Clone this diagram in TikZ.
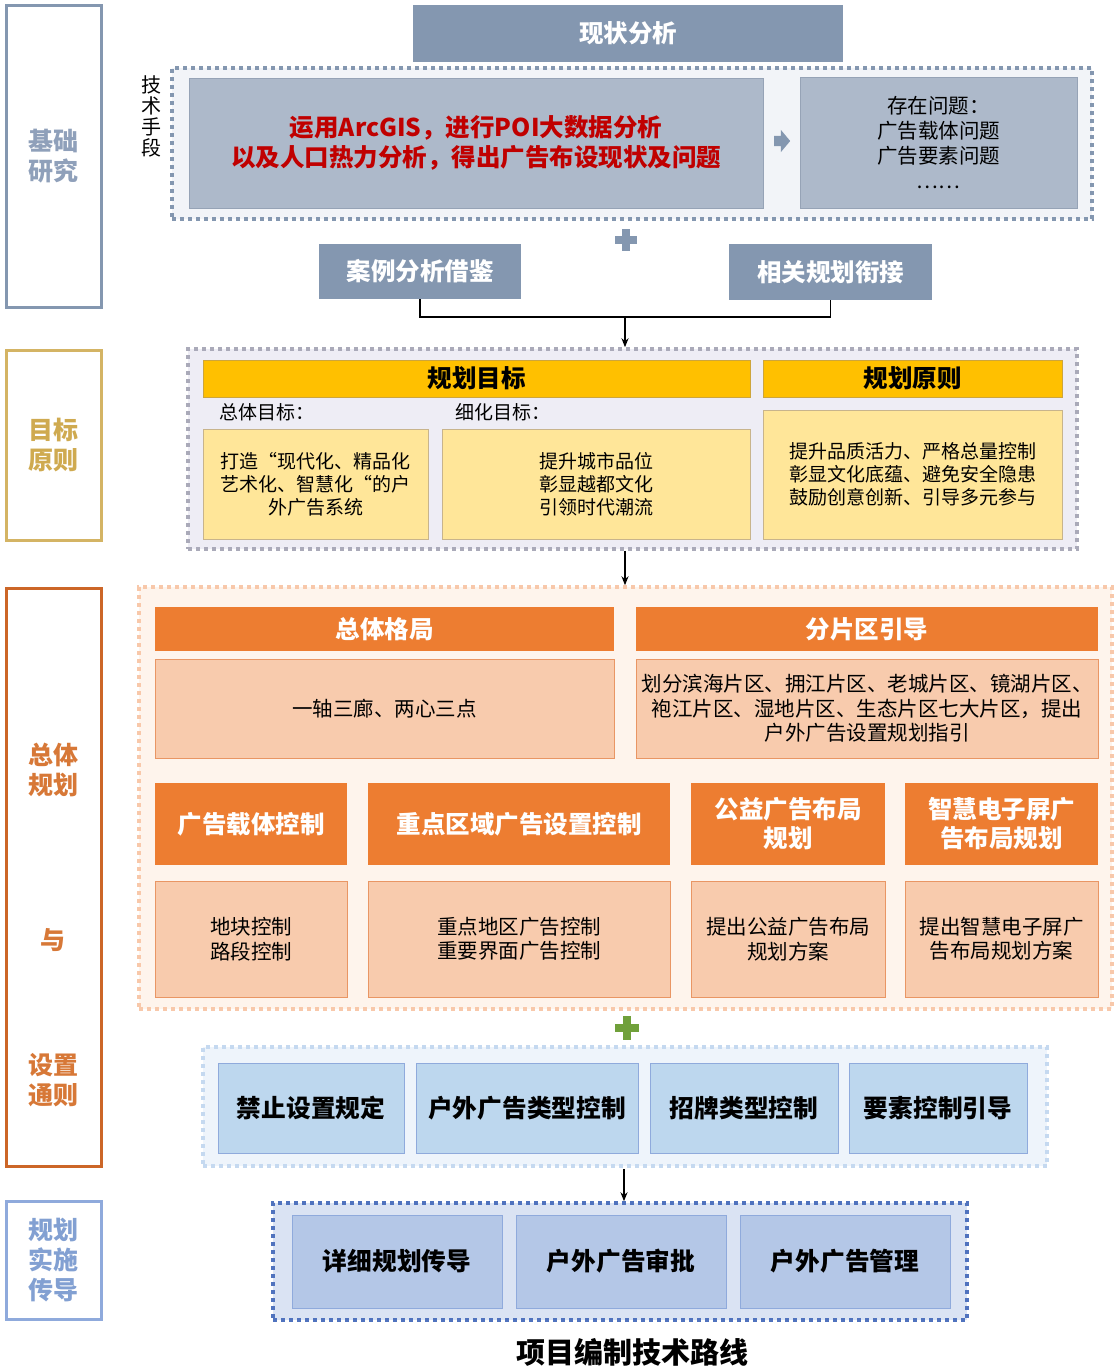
\documentclass[tikz,border=0pt]{standalone}
\usepackage{fontspec}
\setmainfont{Noto Sans CJK SC}
\usepackage{xcolor}
\definecolor{slate}{RGB}{132,151,176}
\definecolor{slatelt}{RGB}{173,185,202}
\definecolor{slateln}{RGB}{150,163,182}
\definecolor{slatebg}{RGB}{242,244,248}
\definecolor{slatetx}{RGB}{143,160,186}
\definecolor{redtx}{RGB}{192,0,0}
\definecolor{gold}{RGB}{255,192,0}
\definecolor{goldln}{RGB}{205,165,60}
\definecolor{goldlt}{RGB}{255,230,153}
\definecolor{goldln2}{RGB}{200,180,140}
\definecolor{lavbg}{RGB}{238,237,245}
\definecolor{lavln}{RGB}{170,170,185}
\definecolor{goldlab}{RGB}{212,180,100}
\definecolor{goldtx}{RGB}{207,170,80}
\definecolor{org}{RGB}{237,125,49}
\definecolor{peach}{RGB}{248,203,173}
\definecolor{orgln}{RGB}{233,150,100}
\definecolor{peachbg}{RGB}{254,244,236}
\definecolor{peachdot}{RGB}{248,200,170}
\definecolor{orglab}{RGB}{204,102,40}
\definecolor{orgtx}{RGB}{215,120,55}
\definecolor{grn}{RGB}{112,160,58}
\definecolor{blbg}{RGB}{238,244,251}
\definecolor{bldot}{RGB}{197,217,240}
\definecolor{blone}{RGB}{189,215,238}
\definecolor{blln}{RGB}{143,170,220}
\definecolor{bltwobg}{RGB}{218,227,243}
\definecolor{bltwodot}{RGB}{80,115,190}
\definecolor{bltwo}{RGB}{180,199,231}
\definecolor{bllab}{RGB}{143,170,220}
\definecolor{bltx}{RGB}{130,160,210}
\usepackage{tikz}
\usetikzlibrary{arrows.meta,shapes.arrows,calc}
\newcommand\fsz[2]{\fontsize{#1pt}{#2pt}\selectfont}

\begin{document}
\begin{tikzpicture}[
  x=1pt, y=-1pt,
  sz/.style 2 args={minimum width=#1, minimum height=#2},
  lbox/.style={draw, line width=3pt, fill=white, minimum width=95,
               font=\fsz{25}{30}\bfseries, align=center},
  frame/.style={line width=3.5pt, dash pattern=on 4pt off 4pt},
  hdslate/.style={fill=slate, text=white, font=\fsz{24.5}{29}\bfseries},
  boxslate/.style={fill=slatelt, draw=slateln, line width=1pt, align=center},
  hdgold/.style={fill=gold, draw=goldln, line width=1pt, font=\fsz{24.5}{29}\bfseries},
  boxgold/.style={fill=goldlt, draw=goldln2, line width=1pt,
                  font=\fsz{19}{23}, align=center},
  hdorg/.style={fill=org, text=white, font=\fsz{24.5}{29}\bfseries, align=center},
  boxorg/.style={fill=peach, draw=orgln, line width=1pt,
                 font=\fsz{20.5}{24.5}, align=center},
  boxblue/.style={fill=blone, draw=blln, line width=1pt, font=\fsz{24.7}{29}\bfseries},
  boxbluedk/.style={fill=bltwo, draw=blln, line width=1pt, font=\fsz{24.7}{29}\bfseries},
  arr/.style={-{Stealth[length=9pt,width=7pt]}, line width=1.5pt},
]
\useasboundingbox (0,0) rectangle (1116,1366);

%% left column
\node[lbox, draw=slate, text=slatetx, minimum height=302] (lb1) at (53.5,156) {基础\\研究};
\node[lbox, draw=goldlab, text=goldtx, minimum height=190] (lb2) at (53.5,445) {目标\\原则};
\node[lbox, draw=orglab, minimum height=578] (lb3) at (53.5,877) {};
\node[text=orgtx, font=\fsz{25}{30}\bfseries, align=center] (lb3a) at (53,770) {总体\\规划};
\node[text=orgtx, font=\fsz{25}{30}\bfseries] (lb3b) at (53,940) {与};
\node[text=orgtx, font=\fsz{25}{30}\bfseries, align=center] (lb3c) at (53,1080) {设置\\通则};
\node[lbox, draw=bllab, text=bltx, minimum height=118] (lb4) at (53.5,1260) {规划\\实施\\传导};

%% status analysis
\node[hdslate, sz={430}{57}] (xzfx) at (628,33.5) {现状分析};
\node[frame, draw=slate, fill=slatebg, sz={920}{151}] (f1) at (632,143.5) {};
\node[font=\fsz{20}{21}, align=center] (jssd) at (151,116) {技\\术\\手\\段};
\node[boxslate, sz={574}{130}, text=redtx, font=\fsz{24.5}{30}\bfseries] (poi) at (476,143)
  {运用ArcGIS，进行POI大数据分析\\以及人口热力分析，得出广告布设现状及问题};
\node[single arrow, fill=slate, minimum height=16, inner xsep=0pt, inner ysep=5pt,
      single arrow head extend=6pt, single arrow tip angle=100] (ar1) at (780,141) {};
\node[boxslate, sz={277}{131}, font=\fsz{20.5}{25}] (wt) at (938.5,142.5)
  {存在问题：\\广告载体问题\\广告要素问题\\……};
\fill[slate] (615,236) rectangle (637,244);
\fill[slate] (622,229) rectangle (630,251);
\node[hdslate, sz={202}{55}] (alfx) at (420,271.5) {案例分析借鉴};
\node[hdslate, sz={203}{56}] (xggh) at (830.5,272) {相关规划衔接};
\coordinate (jn) at (625,317);

%% goals and principles
\node[frame, draw=lavln, fill=lavbg, sz={889}{200}] (f2) at (632.5,449) {};
\node[hdgold, sz={547}{37}] (ghmb) at (476.5,378.5) {规划目标};
\node[hdgold, sz={299}{37}] (ghyz) at (912.5,378.5) {规划原则};
\node[anchor=west, font=\fsz{19}{23}, inner sep=0pt] (ztmb) at (219,412) {总体目标：};
\node[anchor=west, font=\fsz{19}{23}, inner sep=0pt] (xhmb) at (455,412) {细化目标：};
\node[boxgold, sz={225}{110}] (mb1) at (315.5,484) {打造“现代化、精品化\\艺术化、智慧化“的户\\外广告系统};
\node[boxgold, sz={308}{110}] (mb2) at (596,484) {提升城市品位\\彰显越都文化\\引领时代潮流};
\node[boxgold, sz={299}{129}] (yz) at (912.5,474.5)
  {提升品质活力、严格总量控制\\彰显文化底蕴、避免安全隐患\\鼓励创意创新、引导多元参与};

%% overall planning
\node[frame, draw=peachdot, fill=peachbg, sz={973}{422}] (f3) at (625.5,798) {};
\node[hdorg, sz={459}{44}] (ztgj) at (384.5,629) {总体格局};
\node[hdorg, sz={462}{44}] (fpq) at (867,629) {分片区引导};
\node[boxorg, sz={459}{99}] (ztgjb) at (384.5,708.5) {一轴三廊、两心三点};
\node[boxorg, sz={462}{99}] (fpqb) at (867,708.5)
  {划分滨海片区、拥江片区、老城片区、镜湖片区、\\袍江片区、湿地片区、生态片区七大片区，提出\\户外广告设置规划指引};
\node[hdorg, sz={192}{82}] (h1) at (251,824) {广告载体控制};
\node[hdorg, sz={302}{82}] (h2) at (519,824) {重点区域广告设置控制};
\node[hdorg, sz={194}{82}] (h3) at (788,824) {公益广告布局\\规划};
\node[hdorg, sz={193}{82}] (h4) at (1001.5,824) {智慧电子屏广\\告布局规划};
\node[boxorg, sz={192}{116}] (b1) at (251,939) {地块控制\\路段控制};
\node[boxorg, sz={302}{116}] (b2) at (519,939) {重点地区广告控制\\重要界面广告控制};
\node[boxorg, sz={194}{116}] (b3) at (788,939) {提出公益广告布局\\规划方案};
\node[boxorg, sz={193}{116}] (b4) at (1001.5,939) {提出智慧电子屏广\\告布局规划方案};
\fill[grn] (615,1024) rectangle (639,1032);
\fill[grn] (623,1016) rectangle (631,1040);

%% general rules
\node[frame, draw=bldot, fill=blbg, sz={844}{119}] (f4) at (625,1106.5) {};
\node[boxblue, sz={186}{90}] (k1) at (311,1108) {禁止设置规定};
\node[boxblue, sz={222}{90}] (k2) at (527,1108) {户外广告类型控制};
\node[boxblue, sz={188}{90}] (k3) at (744,1108) {招牌类型控制};
\node[boxblue, sz={178}{90}] (k4) at (938,1108) {要素控制引导};

%% implementation
\node[frame, draw=bltwodot, fill=bltwobg, sz={694}{117}] (f5) at (620,1261.5) {};
\node[boxbluedk, sz={210}{93}] (s1) at (397,1261.5) {详细规划传导};
\node[boxbluedk, sz={210}{93}] (s2) at (621,1261.5) {户外广告审批};
\node[boxbluedk, sz={210}{93}] (s3) at (845,1261.5) {户外广告管理};

\node[font=\fsz{29}{32}\bfseries] (title) at (632,1352) {项目编制技术路线};

%% connectors
\draw[line width=1.5pt] (alfx.south) |- (jn) -| (xggh.south);
\draw[arr] (jn) -- (jn |- f2.north);
\draw[arr] (f2.south -| jn) -- (f3.north -| jn);
\draw[arr] ($(f4.south -| jn)+(-1,1.5)$) -- ($(f5.north -| jn)+(-1,0)$);
\end{tikzpicture}
\end{document}
